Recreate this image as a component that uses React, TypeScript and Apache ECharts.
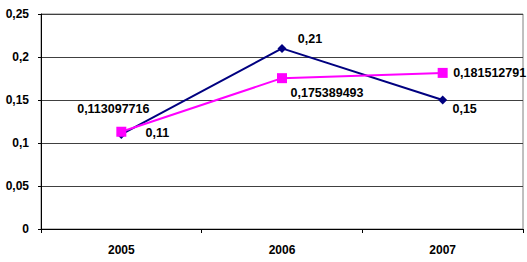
import React, { useEffect, useRef } from "react";
import * as echarts from "echarts";

const categories = ["2005", "2006", "2007"];
const seriesA = [0.11, 0.21, 0.15];
const seriesB = [0.113097716, 0.175389493, 0.181512791];
const yTicks = [0, 0.05, 0.1, 0.15, 0.2, 0.25];

const offsetsA: [number, number][] = [[36, -1], [28, -9], [22, 9]];
const offsetsB: [number, number][] = [[-8, -23], [45, 15], [47, 0]];

const fmt = (v: number) => String(v).replace(".", ",");

export default function App() {
  const ref = useRef<HTMLDivElement>(null);
  useEffect(() => {
    document.body.style.margin = "0";
    const chart = echarts.init(ref.current!, null, { renderer: "svg" });
    const labelBase = {
      show: true,
      position: "inside" as const,
      color: "#000",
      fontWeight: "bold" as const,
      fontSize: 12.5,
      fontFamily: "Liberation Sans, Arial, sans-serif",
      formatter: (p: any) => fmt(p.value),
    };
    chart.setOption({
      animation: false,
      backgroundColor: "#fff",
      grid: {
        left: 41,
        right: 4,
        top: 14,
        bottom: 33,
        show: true,
        borderColor: "#808080",
        borderWidth: 1,
      },
      xAxis: {
        type: "category",
        data: categories,
        boundaryGap: true,
        axisLine: { show: true, lineStyle: { color: "#000", width: 1 } },
        axisTick: { show: true, length: 4, lineStyle: { color: "#000" } },
        axisLabel: {
          color: "#000",
          fontWeight: "bold",
          fontSize: 12,
          fontFamily: "Liberation Sans, Arial, sans-serif",
          margin: 15,
        },
      },
      yAxis: {
        type: "value",
        min: yTicks[0],
        max: yTicks[yTicks.length - 1],
        interval: 0.05,
        axisLine: { show: true, lineStyle: { color: "#000", width: 1 } },
        axisTick: { show: true, length: 3, lineStyle: { color: "#000" } },
        splitLine: { show: true, lineStyle: { color: "#404040", width: 1 } },
        axisLabel: {
          color: "#000",
          fontWeight: "bold",
          fontSize: 12,
          fontFamily: "Liberation Sans, Arial, sans-serif",
          margin: 12,
          formatter: (v: number) => fmt(Math.round(v * 100) / 100),
        },
      },
      series: [
        {
          type: "line",
          data: seriesA.map((v, i) => ({
            value: v,
            label: { ...labelBase, offset: offsetsA[i] },
          })),
          symbol: "diamond",
          symbolSize: 9,
          lineStyle: { color: "#000080", width: 2 },
          itemStyle: { color: "#000080" },
          label: labelBase,
        },
        {
          type: "line",
          data: seriesB.map((v, i) => ({
            value: v,
            label: { ...labelBase, offset: offsetsB[i] },
          })),
          symbol: "rect",
          symbolSize: 10,
          lineStyle: { color: "#FF00FF", width: 2 },
          itemStyle: { color: "#FF00FF" },
          label: labelBase,
        },
      ],
    });
    return () => chart.dispose();
  }, []);
  return (
    <div
      ref={ref}
      style={{ position: "absolute", left: 0, top: 0, width: 527, height: 262 }}
    />
  );
}
